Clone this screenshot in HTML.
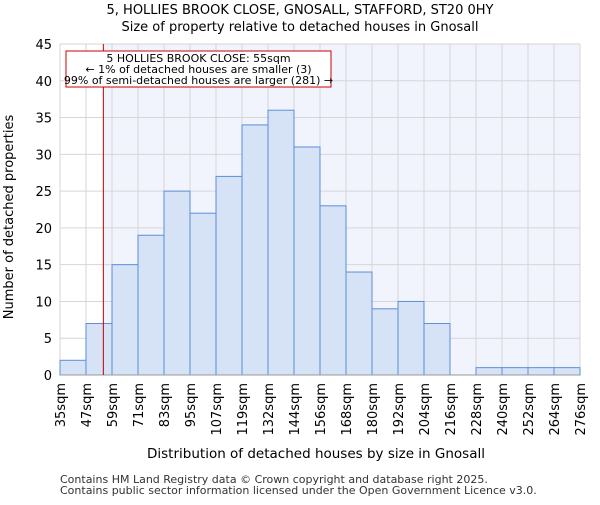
<!DOCTYPE html>
<html><head><meta charset="utf-8"><style>body{margin:0;background:#fff}svg{font-family:"DejaVu Sans","Liberation Sans",sans-serif}</style></head>
<body>
<svg id="c" width="600" height="500" xmlns="http://www.w3.org/2000/svg">
<text x="300" y="14" text-anchor="middle" font-size="13">5, HOLLIES BROOK CLOSE, GNOSALL, STAFFORD, ST20 0HY</text>
<text x="300" y="31" text-anchor="middle" font-size="13">Size of property relative to detached houses in Gnosall</text>
<g id="plot"></g>
<text x="316" y="458" text-anchor="middle" font-size="13.5">Distribution of detached houses by size in Gnosall</text>
<text transform="translate(13,217) rotate(-90)" text-anchor="middle" font-size="13">Number of detached properties</text>
<text x="60" y="483" font-size="11" fill="#333">Contains HM Land Registry data © Crown copyright and database right 2025.</text>
<text x="60" y="494" font-size="11" fill="#333">Contains public sector information licensed under the Open Government Licence v3.0.</text>
</svg>
<script>
const tickLabels=["35sqm","47sqm","59sqm","71sqm","83sqm","95sqm","107sqm","119sqm","132sqm","144sqm","156sqm","168sqm","180sqm","192sqm","204sqm","216sqm","228sqm","240sqm","252sqm","264sqm","276sqm"];
const counts=[2,7,15,19,25,22,27,34,36,31,23,14,9,10,7,0,1,1,1,1];
const yTicks=[0,5,10,15,20,25,30,35,40,45];
const markerValue=55;
const NS="http://www.w3.org/2000/svg";
const L=60,R=580,T=44,B=375,yMax=45;
const bw=(R-L)/counts.length;
const xs=i=>L+i*bw;
const ys=v=>B-v/yMax*(B-T);
const xv=v=>{const i=Math.floor((v-35)/12);return xs(i)+(v-(35+12*i))/12*bw;};
const g=document.getElementById('plot');
function mk(t,a,p){const e=document.createElementNS(NS,t);for(const k in a)e.setAttribute(k,a[k]);(p||g).appendChild(e);return e;}
const mx=xv(markerValue);
const bg=mk('rect',{x:mx,y:T,width:R-mx,height:B-T,fill:'#f1f4fc'});


yTicks.forEach(v=>{const l=mk('line',{x1:L,x2:R,y1:ys(v),y2:ys(v),stroke:'#d6d6d6'});


const t=mk('text',{x:L-8,y:ys(v)+5,'text-anchor':'end','font-size':13});t.textContent=v;

});
tickLabels.forEach((s,i)=>{const l=mk('line',{x1:xs(i),x2:xs(i),y1:T,y2:B,stroke:'#d6d6d6'});


const t=mk('text',{transform:`translate(${xs(i)+5},${B+8}) rotate(-90)`,'text-anchor':'end','font-size':13});t.textContent=s;

});
counts.forEach((v,i)=>{if(v<=0)return;const r=mk('rect',{x:xs(i),y:ys(v),width:bw,height:B-ys(v),fill:'#d6e2f5',stroke:'#5b8fd9','stroke-width':1});

});
const ax=mk('line',{x1:L,x2:R,y1:B,y2:B,stroke:'#999'});


const ml=mk('line',{x1:mx,x2:mx,y1:T,y2:B,stroke:'#b00','stroke-width':1});


const box=mk('rect',{x:66,y:51,width:265,height:36,fill:'#fff',stroke:'#c00','stroke-width':1});


["5 HOLLIES BROOK CLOSE: 55sqm","← 1% of detached houses are smaller (3)","99% of semi-detached houses are larger (281) →"].forEach((s,i)=>{const t=mk('text',{x:198.5,y:62+i*11,'text-anchor':'middle','font-size':11});t.textContent=s;

});
</script>
</body></html>
